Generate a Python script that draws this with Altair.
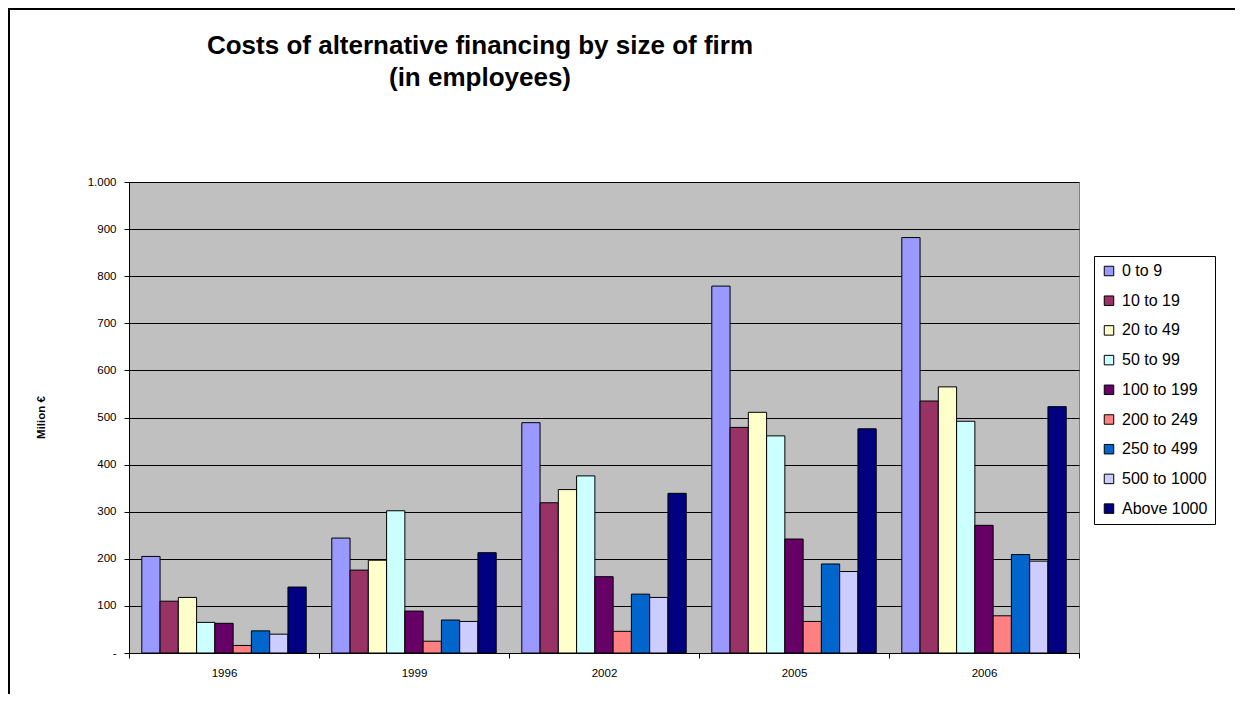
import altair as alt
import pandas as pd

years = ["1996", "1999", "2002", "2005", "2006"]
sizes = ["0 to 9", "10 to 19", "20 to 49", "50 to 99", "100 to 199",
         "200 to 249", "250 to 499", "500 to 1000", "Above 1000"]

s_0_9 = [205, 244, 489, 779, 882]
s_10_19 = [110, 176, 319, 479, 535]
s_20_49 = [118, 197, 347, 511, 565]
s_50_99 = [65, 302, 376, 461, 492]
s_100_199 = [63, 89, 162, 242, 271]
s_200_249 = [16, 25, 46, 67, 79]
s_250_499 = [47, 70, 125, 189, 209]
s_500_1000 = [40, 67, 118, 173, 195]
s_above_1000 = [140, 213, 339, 476, 523]

colors = ["#9999FF", "#993366", "#FFFFCC", "#CCFFFF", "#660066",
          "#FF8080", "#0066CC", "#CCCCFF", "#000080"]

series = [s_0_9, s_10_19, s_20_49, s_50_99, s_100_199,
          s_200_249, s_250_499, s_500_1000, s_above_1000]

rows = []
for name, vals in zip(sizes, series):
    for yr, v in zip(years, vals):
        rows.append({"year": yr, "size": name, "value": v})
df = pd.DataFrame(rows)

FONT = "Liberation Sans"

bars = alt.Chart(df).mark_bar(stroke="black", strokeWidth=1).encode(
    x=alt.X("year:N", sort=years,
            scale=alt.Scale(paddingInner=0, paddingOuter=0),
            axis=alt.Axis(title=None, labelAngle=0, tickBand="extent",
                          domainColor="black", tickColor="black", tickSize=5,
                          labelFont=FONT, labelFontSize=11.5, labelColor="black",
                          labelPadding=9, grid=False)),
    xOffset=alt.XOffset("size:N", sort=sizes,
                        scale=alt.Scale(paddingInner=0, paddingOuter=0.7)),
    y=alt.Y("value:Q",
            scale=alt.Scale(domain=[0, 1000], nice=False),
            axis=alt.Axis(values=list(range(0, 1001, 100)),
                          labelExpr="datum.value == 0 ? '-' : replace(format(datum.value, ','), ',', '.')",
                          grid=True, gridColor="black", gridWidth=1,
                          domainColor="black", tickColor="black", tickSize=5,
                          labelFont=FONT, labelFontSize=11.5, labelColor="black",
                          labelPadding=8,
                          title="Milion €", titleFont=FONT, titleFontSize=11.5,
                          titleFontWeight="bold", titleColor="black",
                          titleX=-83, titleY=235)),
    fill=alt.Fill("size:N", sort=sizes,
                  scale=alt.Scale(domain=sizes, range=colors),
                  legend=alt.Legend(orient="none", legendX=965, legendY=74,
                                    title=None, labelFont=FONT, labelFontSize=16,
                                    labelColor="black",
                                    symbolType="square", symbolSize=90,
                                    symbolStrokeColor="black", symbolStrokeWidth=1,
                                    strokeColor="black", fillColor="white",
                                    padding=7, rowPadding=13.7, labelOffset=5,
                                    labelLimit=300)),
)

frame = alt.Chart(pd.DataFrame({"k": [0]})).mark_rect(
    fill="transparent", stroke="black", strokeWidth=2
).encode(
    x=alt.value(-120), x2=alt.value(2000),
    y=alt.value(-173), y2=alt.value(2000)
)

chart = alt.layer(bars, frame).properties(
    width=950, height=471,
    autosize=alt.AutoSizeParams(type="none"),
    padding={"left": 121, "top": 174, "right": 156, "bottom": 41},
    title=alt.TitleParams(
        text=["Costs of alternative financing by size of firm", "(in employees)"],
        font=FONT, fontSize=26, fontWeight="bold", color="black",
        anchor="middle", dx=-124, offset=-83, lineHeight=32),
).configure_view(fill="#C0C0C0", stroke="#808080", strokeWidth=1)

chart.save("out.html", embed_options={"renderer": "svg", "actions": False})
